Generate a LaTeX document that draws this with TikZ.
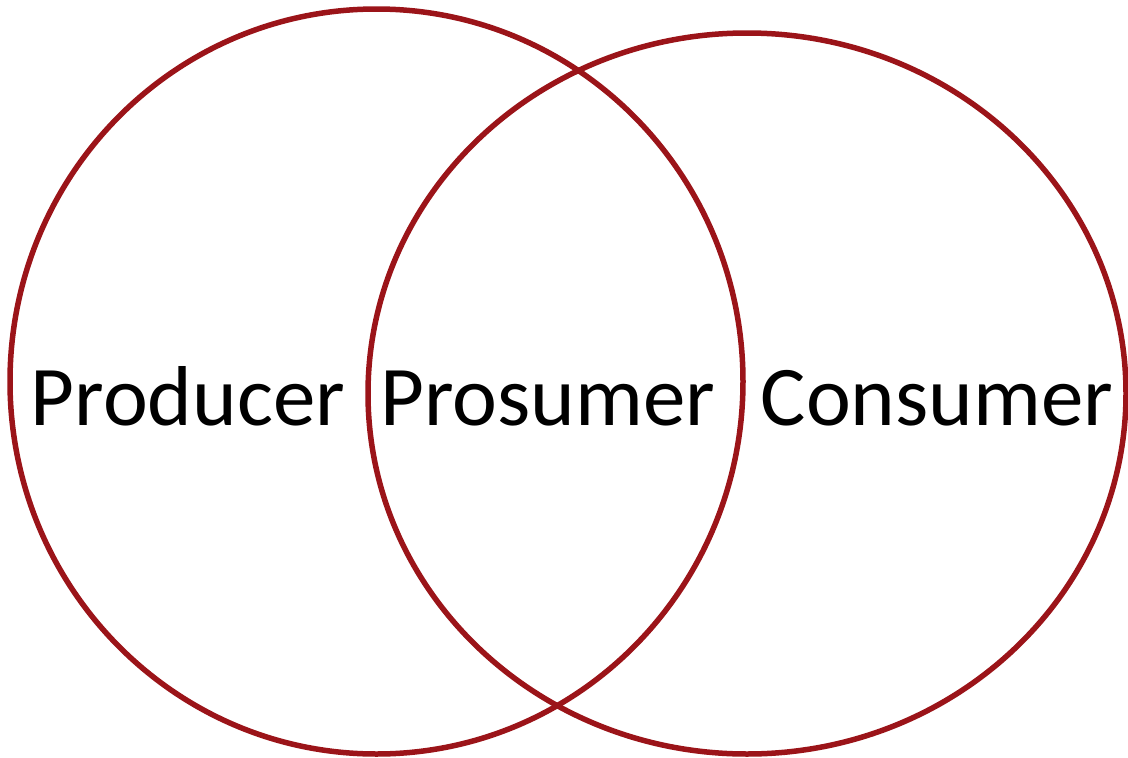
\documentclass[tikz,border=0pt]{standalone}
\usepackage{fontspec}
\setmainfont{Carlito}
\usepackage{xcolor}
\usepackage{tikz}
\usetikzlibrary{positioning}
\definecolor{setred}{HTML}{9B1419}
\tikzset{set/.style = {draw=setred,line width=5.5pt}}

\begin{document}
\begin{tikzpicture}[x=1pt,y=-1pt,label node/.style={anchor=base,inner sep=0pt,font=\fontsize{85}{90}\selectfont}]
            \useasboundingbox (0,0) rectangle (1128,758);

            % the two sets
            \draw[set] (376.5,381.5) ellipse [x radius=366.5, y radius=372.5];
            \draw[set] (747,393.5) ellipse [x radius=379, y radius=360.5];

            \node[label node] (producer) at (188,425) {Producer};
            \node[label node] (prosumer) at (548,425) {Prosumer};
            \node[label node] (consumer) at (937,425) {Consumer};
        \end{tikzpicture}
\end{document}
